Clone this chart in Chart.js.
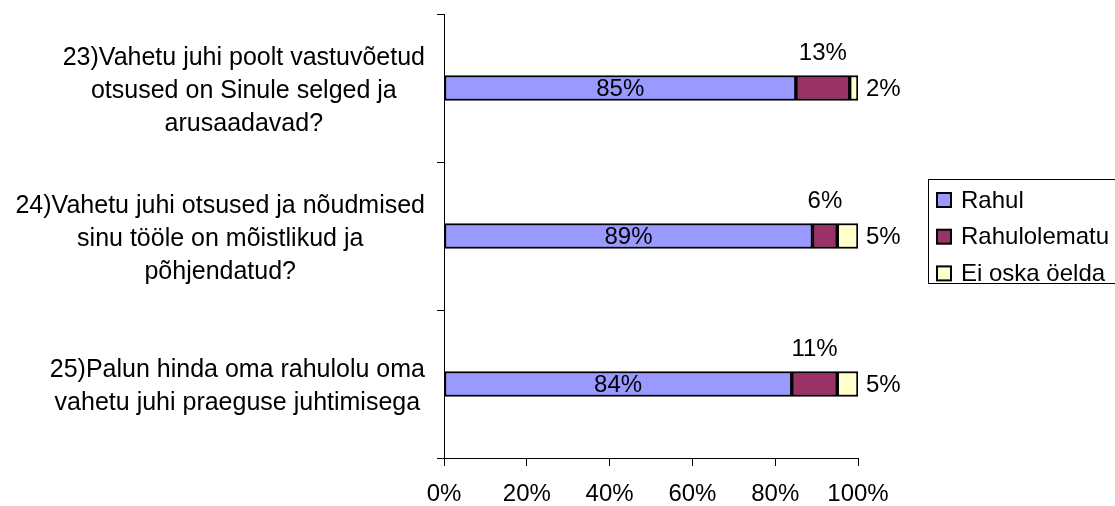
<!DOCTYPE html>
<html>
<head>
<meta charset="utf-8">
<script src="https://cdn.jsdelivr.net/npm/chart.js@4/dist/chart.umd.min.js"></script>
<style>
  html, body { margin: 0; padding: 0; background: #fff; overflow: hidden; }
  #wrap { width: 1115px; height: 506px; }
</style>
</head>
<body>
<div id="wrap"><canvas id="c" width="1115" height="506"></canvas></div>
<script>
// Survey questions (one entry per bar, split into display lines)
const questions = [
  ["23)Vahetu juhi poolt vastuvõetud", "otsused on Sinule selged ja", "arusaadavad?"],
  ["24)Vahetu juhi otsused ja nõudmised", "sinu tööle on mõistlikud ja", "põhjendatud?"],
  ["25)Palun hinda oma rahulolu oma", "vahetu juhi praeguse juhtimisega"]
];

// Answer shares in percent
const rahul = [85, 89, 84];
const rahulolematu = [13, 6, 11];
const eiOskaOelda = [2, 5, 5];

const seriesNames = ["Rahul", "Rahulolematu", "Ei oska öelda"];
const seriesColors = ["#9999FF", "#993366", "#FFFFCC"];

const xTicks = [0, 20, 40, 60, 80, 100];

const FONT = "'Liberation Sans', Arial, Helvetica, sans-serif";

// Value labels: first segment inside, second above, third to the right
const valueLabels = {
  id: 'valueLabels',
  afterDatasetsDraw(chart) {
    const ctx = chart.ctx;
    ctx.save();
    ctx.fillStyle = '#000';
    ctx.font = '24px ' + FONT;
    ctx.textBaseline = 'middle';
    chart.data.datasets.forEach((ds, di) => {
      const meta = chart.getDatasetMeta(di);
      meta.data.forEach((bar, i) => {
        const p = bar.getProps(['x', 'y', 'base', 'height'], true);
        const text = ds.data[i] + '%';
        if (di === 0) {
          ctx.textAlign = 'center';
          ctx.fillText(text, (p.x + p.base) / 2, p.y + 1);
        } else if (di === 1) {
          ctx.textAlign = 'center';
          ctx.fillText(text, (p.x + p.base) / 2, p.y - p.height / 2 - 22);
        } else {
          ctx.textAlign = 'left';
          ctx.fillText(text, p.x + 8, p.y + 1);
        }
      });
    });
    ctx.restore();
  }
};

// Category text: each question block right-aligned, its lines centred
const questionLabels = {
  id: 'questionLabels',
  afterDraw(chart) {
    const ctx = chart.ctx;
    const yScale = chart.scales.y;
    const lineH = 33;
    ctx.save();
    ctx.fillStyle = '#000';
    ctx.font = '25px ' + FONT;
    ctx.textAlign = 'center';
    ctx.textBaseline = 'middle';
    const right = yScale.right - 19;
    questions.forEach((lines, i) => {
      const w = Math.max(...lines.map(l => ctx.measureText(l).width));
      const cx = right - w / 2;
      const cy = yScale.getPixelForValue(i) + 3;
      lines.forEach((l, k) => {
        ctx.fillText(l, cx, cy + (k - (lines.length - 1) / 2) * lineH);
      });
    });
    ctx.restore();
  }
};

// Boxed legend at the right edge
const boxLegend = {
  id: 'boxLegend',
  afterDraw(chart) {
    const ctx = chart.ctx;
    const area = chart.chartArea;
    const left = area.right + 70;
    const top = 179;
    const rowH = 36.7;
    ctx.save();
    ctx.strokeStyle = '#000';
    ctx.lineWidth = 1;
    ctx.strokeRect(left + 0.5, top + 0.5, 260, 104);
    ctx.font = '24px ' + FONT;
    ctx.textBaseline = 'middle';
    ctx.textAlign = 'left';
    chart.data.datasets.forEach((ds, i) => {
      const cy = top + 21 + i * rowH;
      ctx.fillStyle = ds.backgroundColor;
      ctx.fillRect(left + 9, cy - 7, 14, 14);
      ctx.lineWidth = 2;
      ctx.strokeRect(left + 9, cy - 7, 14, 14);
      ctx.fillStyle = '#000';
      ctx.fillText(ds.label, left + 33, cy + 1);
    });
    ctx.restore();
  }
};

const seriesData = [rahul, rahulolematu, eiOskaOelda];

new Chart(document.getElementById('c'), {
  type: 'bar',
  data: {
    labels: questions.map(q => q.join(' ')),
    datasets: seriesNames.map((name, i) => ({
      label: name,
      data: seriesData[i],
      backgroundColor: seriesColors[i],
      borderColor: '#000',
      borderWidth: 2,
      borderSkipped: false,
      barThickness: 25
    }))
  },
  options: {
    indexAxis: 'y',
    responsive: false,
    animation: false,
    layout: { padding: { top: 14, right: 257, left: 0, bottom: 0 } },
    plugins: {
      legend: { display: false },
      tooltip: { enabled: false }
    },
    scales: {
      x: {
        stacked: true,
        min: 0,
        max: 100,
        afterBuildTicks(scale) { scale.ticks = xTicks.map(v => ({ value: v })); },
        afterFit(scale) { scale.height = 48; },
        ticks: {
          color: '#000',
          padding: 14,
          maxRotation: 0,
          font: { size: 24, family: FONT },
          callback: v => v + '%'
        },
        grid: {
          drawOnChartArea: false,
          drawTicks: true,
          tickLength: 8,
          color: '#000'
        },
        border: { display: true, color: '#000', width: 1 }
      },
      y: {
        stacked: true,
        afterFit(scale) { scale.width = 444; },
        ticks: { display: false },
        grid: {
          drawOnChartArea: false,
          drawTicks: true,
          tickLength: 7,
          offset: true,
          color: '#000'
        },
        border: { display: true, color: '#000', width: 1 }
      }
    }
  },
  plugins: [valueLabels, questionLabels, boxLegend]
});
</script>
</body>
</html>
